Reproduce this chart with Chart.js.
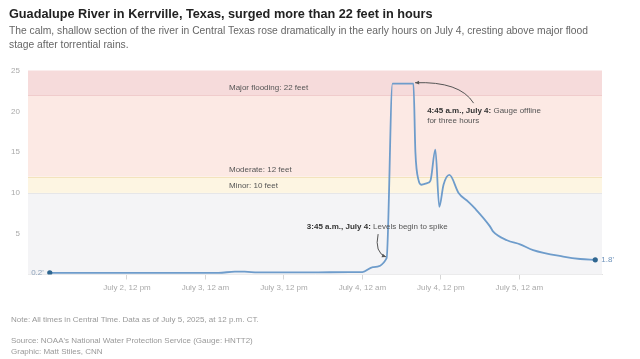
<!DOCTYPE html>
<html><head><meta charset="utf-8">
<script src="https://cdn.jsdelivr.net/npm/chart.js@4/dist/chart.umd.min.js"></script>
<style>
html,body{margin:0;padding:0;background:#fff;width:640px;height:359px;overflow:hidden;font-family:"Liberation Sans",Arial,sans-serif;}
#wrap{position:relative;width:640px;height:359px;}
canvas{position:absolute;left:0;top:0;}
.t{position:absolute;left:9px;white-space:nowrap;}
#title{top:6px;font-weight:bold;font-size:12.7px;line-height:16px;color:#222;}
#sub{top:24px;font-size:10.3px;line-height:14px;color:#666;}
.note{left:11px;font-size:8px;line-height:10px;color:#999;}
</style></head>
<body><div id="wrap">
<canvas id="c" width="640" height="359"></canvas>
<div id="title" class="t">Guadalupe River in Kerrville, Texas, surged more than 22 feet in hours</div>
<div id="sub" class="t">The calm, shallow section of the river in Central Texas rose dramatically in the early hours on July 4, cresting above major flood<br>stage after torrential rains.</div>
<div class="t note" style="top:315px">Note: All times in Central Time. Data as of July 5, 2025, at 12 p.m. CT.</div>
<div class="t note" style="top:336px">Source: NOAA's National Water Protection Service (Gauge: HNTT2)</div>
<div class="t note" style="top:347px">Graphic: Matt Stiles, CNN</div>
</div>
<script>
// Hours since July 2, 12 a.m. (Central Time)
const hours  = [0.2, 10, 20, 26, 28.5, 30, 32, 40, 46, 48, 49.6, 51.7, 52.6, 55.8, 56.1, 56.6, 57.0, 57.9, 58.4, 59.15, 59.75, 60.4, 61.3, 62.7, 64.2, 65.2, 67.5, 68.0, 70.1, 72.1, 74.1, 78.7, 81.3, 83.6];
// River stage, feet
const levels = [0.2, 0.2, 0.2, 0.2, 0.35, 0.35, 0.25, 0.25, 0.3, 0.3, 0.9, 2.0, 23.4, 23.4, 15.0, 11.5, 11.0, 11.2, 11.5, 15.3, 8.3, 11.0, 12.2, 10.0, 8.9, 8.1, 5.9, 5.25, 4.2, 3.7, 3.0, 2.2, 1.9, 1.8];

const tickHours  = [12, 24, 36, 48, 60, 72];
const tickLabels = ["July 2, 12 pm", "July 3, 12 am", "July 3, 12 pm", "July 4, 12 am", "July 4, 12 pm", "July 5, 12 am"];
const yTicks = [0, 5, 10, 15, 20, 25];

const bandEdges  = [0, 10, 12, 22, 25];
const bandColors = ["#f4f4f6", "#fdf5e2", "#fce9e4", "#f6dbdb"];
const bandLines  = [null, "#e6e6e8", "#f3e3bd", "#f0cccc"];
const bandLabels = [null, "Minor: 10 feet", "Moderate: 12 feet", "Major flooding: 22 feet"];
const bandLabelHour = 27.6;

const notes = [
  {bold: "4:45 a.m., July 4:", rest: " Gauge offline", line2: "for three hours", tx: 57.9, ty: 20.06,
   from: [65.0, 21.0], ctrl: [62.9, 23.7], to: [56.05, 23.5]},
  {bold: "3:45 a.m., July 4:", rest: " Levels begin to spike", line2: "", tx: 39.5, ty: 5.83,
   from: [50.4, 4.95], ctrl: [49.8, 2.7], to: [51.6, 2.15]}
];

const data = hours.map((h, i) => ({x: h, y: levels[i]}));
const last = data.length - 1;

const bandsPlugin = {
  id: 'bands',
  beforeDatasetsDraw(chart) {
    const {ctx, chartArea: a, scales: {x, y}} = chart;
    ctx.save();
    for (let i = 0; i < bandColors.length; i++) {
      const yt = y.getPixelForValue(bandEdges[i + 1]);
      const yb = y.getPixelForValue(bandEdges[i]);
      ctx.fillStyle = bandColors[i];
      ctx.fillRect(a.left, yt, a.right - a.left, yb - yt);
    }
    for (let i = 1; i < bandColors.length; i++) {
      const yy = Math.round(y.getPixelForValue(bandEdges[i])) + 0.5;
      ctx.strokeStyle = bandLines[i];
      ctx.lineWidth = 1;
      ctx.beginPath(); ctx.moveTo(a.left, yy); ctx.lineTo(a.right, yy); ctx.stroke();
    }
    ctx.font = '8px "Liberation Sans", Arial, sans-serif';
    ctx.fillStyle = '#555';
    ctx.textBaseline = 'bottom';
    ctx.textAlign = 'left';
    const bx = x.getPixelForValue(bandLabelHour);
    for (let i = 1; i < bandLabels.length; i++) {
      ctx.fillText(bandLabels[i], bx, y.getPixelForValue(bandEdges[i]) - 3);
    }
    ctx.restore();
  },
  afterDatasetsDraw(chart) {
    const {ctx, scales: {x, y}} = chart;
    ctx.save();
    ctx.textBaseline = 'middle';
    ctx.textAlign = 'left';
    for (const n of notes) {
      const px = x.getPixelForValue(n.tx), py = y.getPixelForValue(n.ty);
      ctx.font = 'bold 8px "Liberation Sans", Arial, sans-serif';
      ctx.fillStyle = '#333';
      ctx.fillText(n.bold, px, py);
      const w = ctx.measureText(n.bold).width;
      ctx.font = '8px "Liberation Sans", Arial, sans-serif';
      ctx.fillStyle = '#555';
      ctx.fillText(n.rest, px + w, py);
      if (n.line2) ctx.fillText(n.line2, px, py + 10);
      const fx = x.getPixelForValue(n.from[0]), fy = y.getPixelForValue(n.from[1]);
      const cx = x.getPixelForValue(n.ctrl[0]), cy = y.getPixelForValue(n.ctrl[1]);
      const tx = x.getPixelForValue(n.to[0]), ty = y.getPixelForValue(n.to[1]);
      ctx.strokeStyle = '#555'; ctx.lineWidth = 1;
      ctx.beginPath(); ctx.moveTo(fx, fy); ctx.quadraticCurveTo(cx, cy, tx, ty); ctx.stroke();
      const ang = Math.atan2(ty - cy, tx - cx);
      const L = 4.5, W = 0.45;
      ctx.fillStyle = '#555';
      ctx.beginPath();
      ctx.moveTo(tx, ty);
      ctx.lineTo(tx - L * Math.cos(ang - W), ty - L * Math.sin(ang - W));
      ctx.lineTo(tx - L * Math.cos(ang + W), ty - L * Math.sin(ang + W));
      ctx.closePath(); ctx.fill();
    }
    const meta = chart.getDatasetMeta(0);
    const p0 = meta.data[0], pl = meta.data[last];
    ctx.font = '8px "Liberation Sans", Arial, sans-serif';
    ctx.fillStyle = '#8ea3bb';
    ctx.textAlign = 'right';
    ctx.fillText(levels[0] + "'", p0.x - 6, p0.y);
    ctx.fillStyle = '#6f93bb';
    ctx.textAlign = 'left';
    ctx.fillText(levels[last] + "'", pl.x + 6, pl.y);
    ctx.restore();
  }
};

new Chart(document.getElementById('c'), {
  type: 'line',
  data: {
    datasets: [{
      data: data,
      borderColor: '#6e9ccb',
      borderWidth: 1.8,
      cubicInterpolationMode: 'monotone',
      pointRadius: ctx => (ctx.dataIndex === 0 || ctx.dataIndex === last) ? 2.6 : 0,
      pointBackgroundColor: '#2f6690',
      pointBorderWidth: 0,
      fill: false
    }]
  },
  options: {
    responsive: false,
    animation: false,
    devicePixelRatio: 1,
    layout: {padding: {left: 0, top: 70.5, right: 38, bottom: 54.5}},
    plugins: {legend: {display: false}, tooltip: {enabled: false}},
    scales: {
      x: {
        type: 'linear', min: -3.13, max: 84.63,
        afterBuildTicks: s => { s.ticks = tickHours.map(v => ({value: v})); },
        afterFit: s => { s.height = 30; },
        ticks: {
          autoSkip: false, maxRotation: 0, padding: 3, color: '#aaa',
          font: {size: 8, family: '"Liberation Sans", Arial, sans-serif'},
          callback: v => tickLabels[tickHours.indexOf(v)]
        },
        grid: {drawOnChartArea: false, drawTicks: true, tickLength: 5, color: '#d6d6d6'},
        border: {color: '#e2e2e2'}
      },
      y: {
        min: 0, max: 25,
        afterBuildTicks: s => { s.ticks = yTicks.map(v => ({value: v})); },
        afterFit: s => { s.width = 28; },
        ticks: {
          padding: 8, color: '#aaa',
          font: {size: 8, family: '"Liberation Sans", Arial, sans-serif'},
          callback: v => v === 0 ? '' : String(v)
        },
        grid: {display: false, drawTicks: false},
        border: {display: false}
      }
    }
  },
  plugins: [bandsPlugin]
});
</script>
</body></html>
